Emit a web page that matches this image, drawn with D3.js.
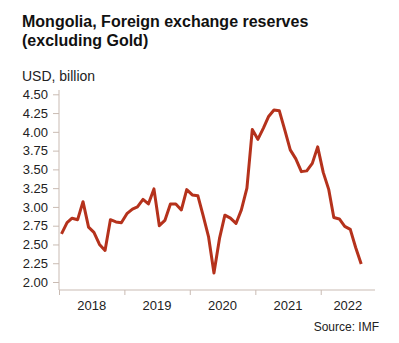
<!DOCTYPE html>
<html>
<head>
<meta charset="utf-8">
<script src="https://cdn.jsdelivr.net/npm/d3@7"></script>
<style>
  html, body { margin: 0; padding: 0; background: #fff; }
  svg { display: block; font-family: "Liberation Sans", Arial, sans-serif; }
</style>
</head>
<body>
<svg id="chart" width="399" height="343"></svg>
<script>
const titleLines = ["Mongolia, Foreign exchange reserves", "(excluding Gold)"];
const unitLabel = "USD, billion";
const sourceLabel = "Source: IMF";
const startYear = 2018;
const startMonth = 0;
const values = [
  2.64, 2.79, 2.85, 2.83, 3.07, 2.73, 2.66, 2.50, 2.42, 2.83, 2.80, 2.79,
  2.91, 2.97, 3.00, 3.10, 3.04, 3.24, 2.75, 2.82, 3.04, 3.04, 2.96, 3.23,
  3.16, 3.15, 2.89, 2.60, 2.12, 2.58, 2.89, 2.85, 2.78, 2.96, 3.25, 4.03,
  3.90, 4.05, 4.20, 4.29, 4.28, 4.02, 3.76, 3.64, 3.47, 3.48, 3.58, 3.80,
  3.46, 3.23, 2.86, 2.84, 2.74, 2.70, 2.46, 2.24
];
const yTicks = [2.00, 2.25, 2.50, 2.75, 3.00, 3.25, 3.50, 3.75, 4.00, 4.25, 4.50];
const yearTicks = [2018, 2019, 2020, 2021, 2022];

const data = values.map((v, i) => ({ date: new Date(startYear, startMonth + i, 15), value: v }));

const svg = d3.select("#chart");
const lineColor = "#b5321c";
const axisColor = "#c9bbb3";
const textColor = "#222";

// Title
svg.append("text").attr("x", 22).attr("y", 27)
  .attr("font-size", 16).attr("font-weight", "bold").attr("fill", "#111")
  .selectAll("tspan").data(titleLines).join("tspan")
  .attr("x", 22).attr("dy", (d, i) => i === 0 ? 0 : 19).text(d => d);

svg.append("text").attr("x", 22).attr("y", 81)
  .attr("font-size", 14).attr("fill", textColor).text(unitLabel);

const x = d3.scaleTime()
  .domain([new Date(2018, 0, 1), new Date(2022, 9, 31)])
  .range([59, 375]);
const y = d3.scaleLinear().domain([2, 4.5]).range([282, 94.3]);

// Y axis
const yAxisG = svg.append("g").attr("transform", "translate(59,0)");
yAxisG.call(d3.axisLeft(y).tickValues(yTicks).tickSize(6).tickPadding(5)
  .tickFormat(d3.format(".2f")));
yAxisG.select(".domain").remove();
yAxisG.append("line").attr("x1", 0).attr("x2", 0).attr("y1", 90).attr("y2", 290)
  .attr("stroke", axisColor).attr("stroke-width", 1);
yAxisG.selectAll(".tick line").attr("stroke", axisColor);
yAxisG.selectAll(".tick text").attr("fill", textColor).attr("font-size", 13)
  .attr("font-family", "Liberation Sans, Arial, sans-serif");

// X axis
const xAxisG = svg.append("g").attr("transform", "translate(0,290)");
xAxisG.call(d3.axisBottom(x).tickValues(yearTicks.map(yr => new Date(yr, 0, 1)))
  .tickSize(5).tickFormat(""));
xAxisG.select(".domain").remove();
xAxisG.append("line").attr("x1", 59).attr("x2", 375).attr("y1", 0).attr("y2", 0)
  .attr("stroke", axisColor);
xAxisG.selectAll(".tick line").attr("stroke", axisColor);
xAxisG.selectAll(".yearlabel").data(yearTicks).join("text")
  .attr("class", "yearlabel")
  .attr("x", yr => (x(new Date(yr, 0, 1)) + Math.min(375, x(new Date(yr + 1, 0, 1)))) / 2)
  .attr("y", 19.5).attr("text-anchor", "middle")
  .attr("font-size", 13).attr("fill", textColor)
  .attr("font-family", "Liberation Sans, Arial, sans-serif")
  .text(yr => yr);

// Line
svg.append("path").datum(data)
  .attr("fill", "none").attr("stroke", lineColor).attr("stroke-width", 3)
  .attr("stroke-linejoin", "round").attr("stroke-linecap", "butt")
  .attr("d", d3.line().x(d => x(d.date)).y(d => y(d.value)));

// Source
svg.append("text").attr("x", 379).attr("y", 331).attr("text-anchor", "end")
  .attr("font-size", 12).attr("fill", textColor).text(sourceLabel);
</script>
</body>
</html>
